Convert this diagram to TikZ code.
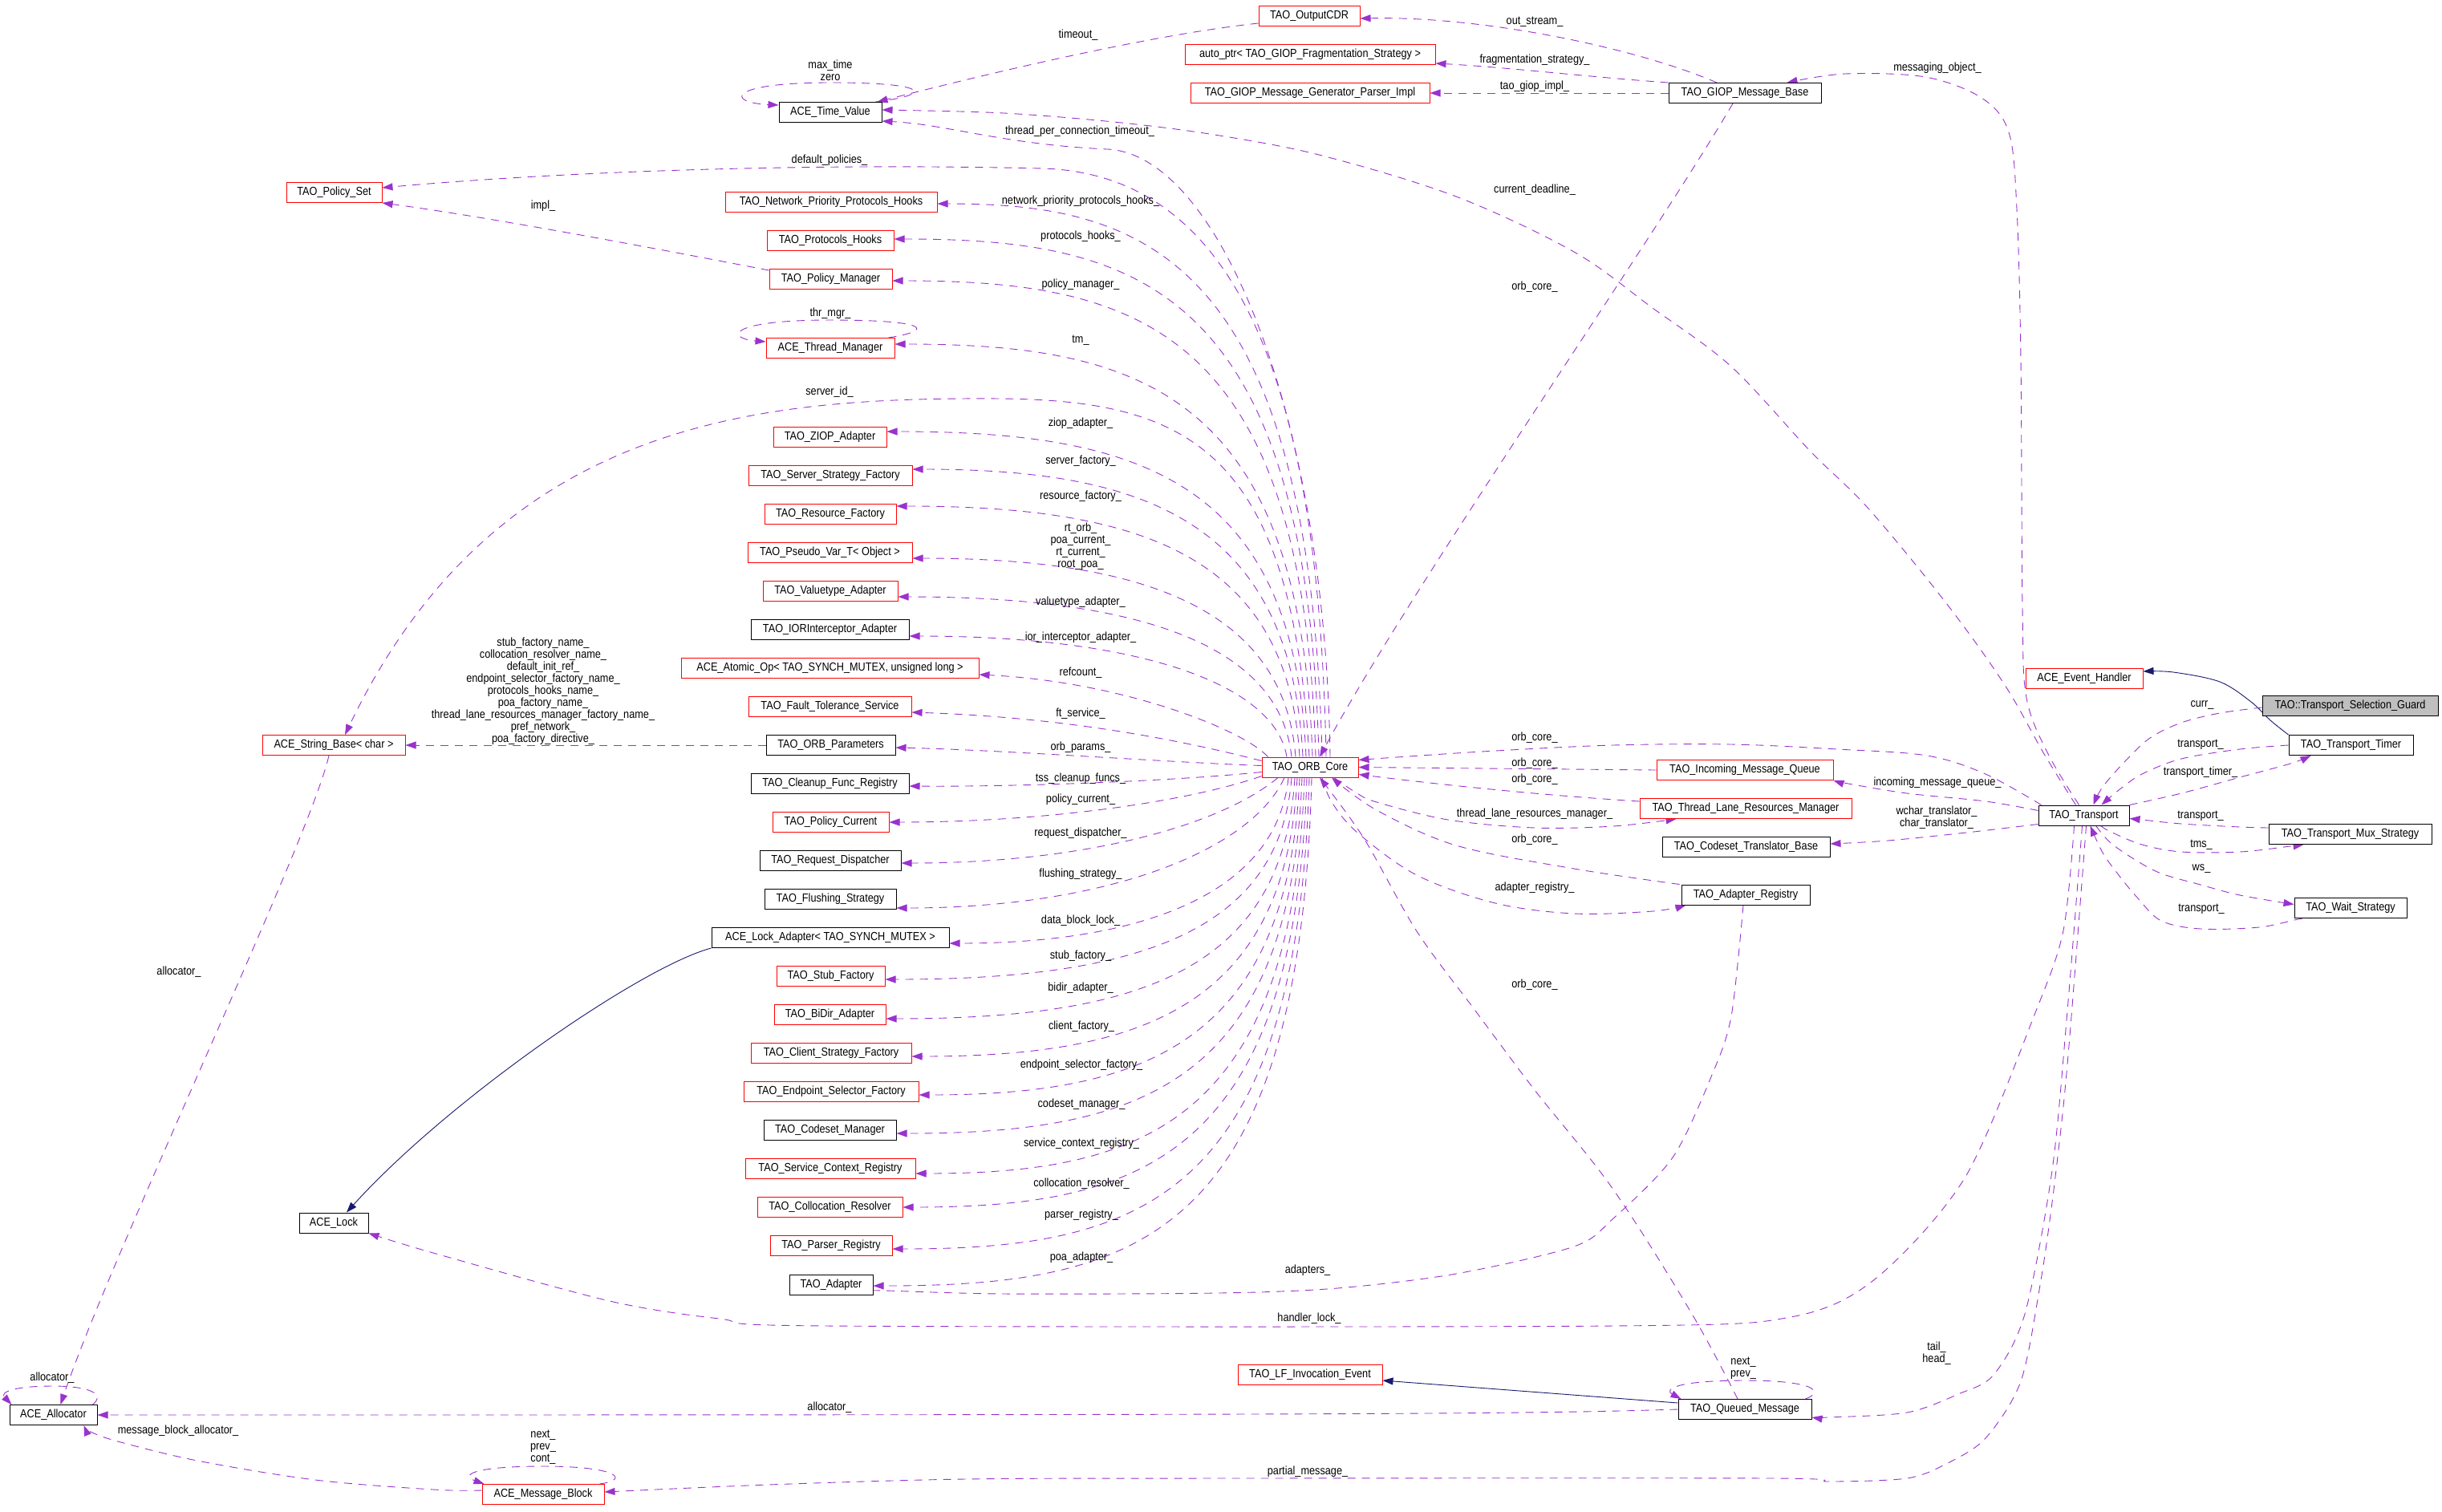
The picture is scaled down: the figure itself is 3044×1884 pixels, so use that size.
\documentclass[tikz,border=0pt]{standalone}
\usepackage{fontspec}
\newfontfamily\dgfam{Liberation Sans}[FakeStretch=0.87]
\newcommand\dgfont{\dgfam\fontsize{7.3pt}{7.5pt}\selectfont}
\usetikzlibrary{arrows.meta,calc}
\definecolor{usecol}{HTML}{9A32CD}
\definecolor{inhcol}{HTML}{191970}
\definecolor{curgray}{HTML}{BFBFBF}
\pgfdeclarelayer{bg}
\pgfsetlayers{bg,main}
\tikzset{
  cls/.style={draw=black, line width=0.5pt, fill=white, minimum height=12.5pt, inner xsep=1pt, inner ysep=0pt, font=\dgfont, text height=5.3pt, text depth=1.6pt},
  redc/.style={cls, draw=red},
  curc/.style={cls, fill=curgray},
  usedge/.style={draw=usecol, line width=0.45pt, dash pattern=on 5pt off 4pt, -{Triangle[length=6.5pt,width=4.5pt]}},
  inhedge/.style={draw=inhcol, line width=0.45pt, -{Triangle[length=6.5pt,width=4.5pt]}},
  lbl/.style={font=\dgfont, inner sep=0pt, align=center},
}
\begin{document}
\begin{tikzpicture}[x=0.5pt,y=-0.5pt]
\useasboundingbox (0,0) rectangle (3044,1884);
% ---------------- nodes ----------------
\node[cls,  minimum width=64pt]   (tv)    at (1035,140)  {ACE\_Time\_Value};
\node[redc, minimum width=59.5pt] (ps)    at (416.5,240) {TAO\_Policy\_Set};
\node[redc, minimum width=132pt]  (npph)  at (1036,252)  {TAO\_Network\_Priority\_Protocols\_Hooks};
\node[redc, minimum width=79pt]   (ph)    at (1035,300)  {TAO\_Protocols\_Hooks};
\node[redc, minimum width=76.5pt] (pm)    at (1035.5,348){TAO\_Policy\_Manager};
\node[redc, minimum width=80pt]   (tm)    at (1035,434)  {ACE\_Thread\_Manager};
\node[redc, minimum width=70.5pt] (ziop)  at (1034.5,545){TAO\_ZIOP\_Adapter};
\node[redc, minimum width=102pt]  (ssf)   at (1035,593)  {TAO\_Server\_Strategy\_Factory};
\node[redc, minimum width=82pt]   (rf)    at (1035,641)  {TAO\_Resource\_Factory};
\node[redc, minimum width=102.5pt](pvt)   at (1034.5,689){TAO\_Pseudo\_Var\_T< Object >};
\node[redc, minimum width=84pt]   (va)    at (1035,737)  {TAO\_Valuetype\_Adapter};
\node[cls,  minimum width=98.5pt] (ior)   at (1034.5,785){TAO\_IORInterceptor\_Adapter};
\node[redc, minimum width=185.5pt](atomic) at (1034.5,833){ACE\_Atomic\_Op< TAO\_SYNCH\_MUTEX, unsigned long >};
\node[redc, minimum width=101.5pt](ft)    at (1034.5,881){TAO\_Fault\_Tolerance\_Service};
\node[cls,  minimum width=80.5pt] (orbp)  at (1035.5,929){TAO\_ORB\_Parameters};
\node[cls,  minimum width=98.5pt] (cfr)   at (1034.5,977){TAO\_Cleanup\_Func\_Registry};
\node[redc, minimum width=72.5pt] (pc)    at (1035.5,1025){TAO\_Policy\_Current};
\node[cls,  minimum width=88pt]   (rd)    at (1035,1073) {TAO\_Request\_Dispatcher};
\node[cls,  minimum width=82pt]   (fs)    at (1035,1121) {TAO\_Flushing\_Strategy};
\node[cls,  minimum width=148pt]  (la)    at (1035,1169) {ACE\_Lock\_Adapter< TAO\_SYNCH\_MUTEX >};
\node[redc, minimum width=67.5pt] (sf)    at (1035.5,1217){TAO\_Stub\_Factory};
\node[redc, minimum width=69.5pt] (bidir) at (1034.5,1265){TAO\_BiDir\_Adapter};
\node[redc, minimum width=100pt]  (csf)   at (1036,1313) {TAO\_Client\_Strategy\_Factory};
\node[redc, minimum width=109pt]  (esf)   at (1036,1361) {TAO\_Endpoint\_Selector\_Factory};
\node[cls,  minimum width=82.5pt] (cm)    at (1034.5,1409){TAO\_Codeset\_Manager};
\node[redc, minimum width=106pt]  (scr)   at (1035,1457) {TAO\_Service\_Context\_Registry};
\node[redc, minimum width=90.5pt] (cr)    at (1034.5,1505){TAO\_Collocation\_Resolver};
\node[redc, minimum width=76pt]   (pr)    at (1036,1553) {TAO\_Parser\_Registry};
\node[cls,  minimum width=52pt]   (ad)    at (1036,1602) {TAO\_Adapter};
\node[redc, minimum width=63pt]   (cdr)   at (1632,20)   {TAO\_OutputCDR};
\node[redc, minimum width=156pt]  (ap)    at (1633,68)   {auto\_ptr< TAO\_GIOP\_Fragmentation\_Strategy >};
\node[redc, minimum width=149pt]  (gpi)   at (1633,116)  {TAO\_GIOP\_Message\_Generator\_Parser\_Impl};
\node[cls,  minimum width=95pt]   (gmb)   at (2175,116)  {TAO\_GIOP\_Message\_Base};
\node[redc, minimum width=60pt]   (orb)   at (1633,956.5){TAO\_ORB\_Core};
\node[redc, minimum width=110pt]  (imq)   at (2175,960)  {TAO\_Incoming\_Message\_Queue};
\node[redc, minimum width=132pt]  (tlrm)  at (2176,1008) {TAO\_Thread\_Lane\_Resources\_Manager};
\node[cls,  minimum width=104.5pt](ctb)   at (2176.5,1056){TAO\_Codeset\_Translator\_Base};
\node[cls,  minimum width=80pt]   (ar)    at (2176,1115.5){TAO\_Adapter\_Registry};
\node[redc, minimum width=73pt]   (eh)    at (2598,846)  {ACE\_Event\_Handler};
\node[curc, minimum width=109.5pt](tsg)   at (2929.5,880){TAO::Transport\_Selection\_Guard};
\node[cls,  minimum width=77.5pt] (tt)    at (2930.5,929){TAO\_Transport\_Timer};
\node[cls,  minimum width=56.5pt] (tr)    at (2597.5,1016.5){TAO\_Transport};
\node[cls,  minimum width=101.5pt](tms)   at (2929.5,1040){TAO\_Transport\_Mux\_Strategy};
\node[cls,  minimum width=70pt]   (ws)    at (2930,1131.5){TAO\_Wait\_Strategy};
\node[redc, minimum width=89pt]   (sb)    at (416,929)   {ACE\_String\_Base< char >};
\node[cls,  minimum width=43pt]   (lock)  at (416,1524.5){ACE\_Lock};
\node[cls,  minimum width=54.5pt] (alloc) at (66.5,1764) {ACE\_Allocator};
\node[redc, minimum width=76pt]   (mb)    at (677,1863)  {ACE\_Message\_Block};
\node[redc, minimum width=90pt]   (lfie)  at (1633,1714) {TAO\_LF\_Invocation\_Event};
\node[cls,  minimum width=83pt]   (qm)    at (2175,1757) {TAO\_Queued\_Message};
% ---------------- labels ----------------
\node[lbl] (l01) at (1035,88)   {max\_time\\zero};
\node[lbl] (l02) at (1344,44)   {timeout\_};
\node[lbl] (l03) at (1346,164)  {thread\_per\_connection\_timeout\_};
\node[lbl] (l04) at (1034,200)  {default\_policies\_};
\node[lbl] (l05) at (1347,251)  {network\_priority\_protocols\_hooks\_};
\node[lbl] (l06) at (677,257)   {impl\_};
\node[lbl] (l07) at (1347,295)  {protocols\_hooks\_};
\node[lbl] (l08) at (1347,355)  {policy\_manager\_};
\node[lbl] (l09) at (1035,391)  {thr\_mgr\_};
\node[lbl] (l10) at (1347,424)  {tm\_};
\node[lbl] (l11) at (1034,489)  {server\_id\_};
\node[lbl] (l12) at (1347,528)  {ziop\_adapter\_};
\node[lbl] (l13) at (1347,575)  {server\_factory\_};
\node[lbl] (l14) at (1347,619)  {resource\_factory\_};
\node[lbl] (l15) at (1347,681)  {rt\_orb\_\\poa\_current\_\\rt\_current\_\\root\_poa\_};
\node[lbl] (l16) at (1347,751)  {valuetype\_adapter\_};
\node[lbl] (l17) at (1347,795)  {ior\_interceptor\_adapter\_};
\node[lbl] (l18) at (1347,839)  {refcount\_};
\node[lbl] (l19) at (1347,890)  {ft\_service\_};
\node[lbl] (l20) at (1347,932)  {orb\_params\_};
\node[lbl] (l21) at (1347,971)  {tss\_cleanup\_funcs\_};
\node[lbl] (l22) at (1347,997)  {policy\_current\_};
\node[lbl] (l23) at (1347,1039) {request\_dispatcher\_};
\node[lbl] (l24) at (1347,1090) {flushing\_strategy\_};
\node[lbl] (l25) at (1347,1148) {data\_block\_lock\_};
\node[lbl] (l26) at (1347,1192) {stub\_factory\_};
\node[lbl] (l27) at (1347,1232) {bidir\_adapter\_};
\node[lbl] (l28) at (1348,1280) {client\_factory\_};
\node[lbl] (l29) at (1348,1328) {endpoint\_selector\_factory\_};
\node[lbl] (l30) at (1348,1377) {codeset\_manager\_};
\node[lbl] (l31) at (1348,1426) {service\_context\_registry\_};
\node[lbl] (l32) at (1348,1476) {collocation\_resolver\_};
\node[lbl] (l33) at (1348,1515) {parser\_registry\_};
\node[lbl] (l34) at (1348,1568) {poa\_adapter\_};
\node[lbl] (l35) at (1913,27)   {out\_stream\_};
\node[lbl] (l36) at (1913,75)   {fragmentation\_strategy\_};
\node[lbl] (l37) at (1913,108)  {tao\_giop\_impl\_};
\node[lbl] (l38) at (1913,237)  {current\_deadline\_};
\node[lbl] (l39) at (1913,358)  {orb\_core\_};
\node[lbl] (l40) at (2415,85)   {messaging\_object\_};
\node[lbl] (l41) at (677,862)   {stub\_factory\_name\_\\collocation\_resolver\_name\_\\default\_init\_ref\_\\endpoint\_selector\_factory\_name\_\\protocols\_hooks\_name\_\\poa\_factory\_name\_\\thread\_lane\_resources\_manager\_factory\_name\_\\pref\_network\_\\poa\_factory\_directive\_};
\node[lbl] (l42) at (223,1212)  {allocator\_};
\node[lbl] (l43) at (1913,920)  {orb\_core\_};
\node[lbl] (l44) at (1913,952)  {orb\_core\_};
\node[lbl] (l45) at (1913,972)  {orb\_core\_};
\node[lbl] (l46) at (1913,1015) {thread\_lane\_resources\_manager\_};
\node[lbl] (l47) at (1913,1047) {orb\_core\_};
\node[lbl] (l48) at (1913,1107) {adapter\_registry\_};
\node[lbl] (l49) at (1913,1228) {orb\_core\_};
\node[lbl] (l50) at (2745,879)  {curr\_};
\node[lbl] (l51) at (2743,928)  {transport\_};
\node[lbl] (l52) at (2743,963)  {transport\_timer\_};
\node[lbl] (l53) at (2415,976)  {incoming\_message\_queue\_};
\node[lbl] (l54) at (2414,1019) {wchar\_translator\_\\char\_translator\_};
\node[lbl] (l55) at (2743,1017) {transport\_};
\node[lbl] (l56) at (2744,1053) {tms\_};
\node[lbl] (l57) at (2744,1083) {ws\_};
\node[lbl] (l58) at (2744,1133) {transport\_};
\node[lbl] (l59) at (1630,1584) {adapters\_};
\node[lbl] (l60) at (1632,1644) {handler\_lock\_};
\node[lbl] (l61) at (2414,1687) {tail\_\\head\_};
\node[lbl] (l62) at (2173,1706) {next\_\\prev\_};
\node[lbl] (l63) at (1034,1755) {allocator\_};
\node[lbl] (l64) at (1630,1835) {partial\_message\_};
\node[lbl] (l65) at (65,1718)   {allocator\_};
\node[lbl] (l66) at (222,1784)  {message\_block\_allocator\_};
\node[lbl] (l67) at (677,1804)  {next\_\\prev\_\\cont\_};
% ---------------- coordinates on nodes ----------------
\coordinate (cdA) at ($(tr.north)+(-10,0)$);
\coordinate (cdB) at ($(tv.east)+(0,-3)$);
\coordinate (moA) at ($(tr.north)+(-6,0)$);
\coordinate (moB) at ($(gmb.north east)+(-43,0)$);
\coordinate (trA) at ($(tr.north west)+(4,0)$);
\coordinate (orbE) at ($(orb.east)+(0,-9)$);
\coordinate (orbS30) at ($(orb.south)+(30,0)$);
\coordinate (tlrmB) at ($(tlrm.south west)+(46,0)$);
\coordinate (arA) at ($(ar.north west)+(-2,0)$);
\coordinate (orbS27) at ($(orb.south)+(27,0)$);
\coordinate (orbS15) at ($(orb.south)+(15,0)$);
\coordinate (arB) at ($(ar.south west)+(6,0)$);
\coordinate (qmA) at ($(qm.north)+(-9,0)$);
\coordinate (orbS12) at ($(orb.south)+(12,0)$);
\coordinate (arS) at ($(ar.south)+(-3,0)$);
\coordinate (adE) at ($(ad.east)+(0,7)$);
\coordinate (trS1) at ($(tr.south)+(-12,0)$);
\coordinate (trS2) at ($(tr.south)+(-2,0)$);
\coordinate (trS3) at ($(tr.south)+(3,0)$);
\coordinate (qmE) at ($(qm.east)+(0,10)$);
\coordinate (mbE) at ($(mb.east)+(0,-3)$);
\coordinate (mbW) at ($(mb.west)+(0,-5)$);
\coordinate (allocB) at ($(alloc.south east)+(-17,0)$);
\coordinate (ehE) at ($(eh.east)+(0,-9)$);
\coordinate (ttNW) at (tt.north west);
\coordinate (tsgW) at ($(tsg.west)+(0,2)$);
\coordinate (trN12) at ($(tr.north)+(12,0)$);
\coordinate (ttW) at (tt.west);
\coordinate (trN22) at ($(tr.north)+(22,0)$);
\coordinate (trNE) at (tr.north east);
\coordinate (ttB) at ($(tt.south west)+(28,0)$);
\coordinate (tmsW) at ($(tms.west)+(0,-8)$);
\coordinate (trE) at ($(tr.east)+(0,4)$);
\coordinate (trSE) at ($(tr.south)+(21,0)$);
\coordinate (tmsB) at ($(tms.south west)+(44,0)$);
\coordinate (trS15) at ($(tr.south)+(15,0)$);
\coordinate (wsW) at ($(ws.west)+(0,-4)$);
\coordinate (wsB) at ($(ws.south west)+(28,0)$);
\coordinate (trS8) at ($(tr.south)+(8,0)$);
\coordinate (trW) at ($(tr.west)+(0,-6)$);
\coordinate (imqSE) at (imq.south east);
\coordinate (trSW) at ($(tr.south west)+(0,-2)$);
\coordinate (ctbE) at ($(ctb.east)+(0,-4)$);
\coordinate (lockSE) at (lock.south east);
% ---------------- edges ----------------
\begin{pgfonlayer}{bg}
\fill[white] (0,0) rectangle (3044,1884);
% self loops
\draw[usedge] ($(tv.north east)+(-8,0)$) .. controls (1165,118) and (1160,103) .. (1035,103) .. controls (905,103) and (905,128) .. ($(tv.west)+(0,-9)$);
\draw[usedge] ($(tm.north east)+(-8,0)$) .. controls (1165,412) and (1160,399) .. (1035,399) .. controls (905,399) and (905,422) .. ($(tm.west)+(0,-8)$);
\draw[usedge] ($(qm.north east)+(-8,0)$) .. controls (2275,1735) and (2262,1721) .. (2175,1721) .. controls (2085,1721) and (2075,1733) .. ($(qm.north west)+(4,0)$);
\draw[usedge] ($(alloc.north east)+(-6,0)$) .. controls (132,1738) and (112,1728) .. (66,1728) .. controls (15,1728) and (0,1736) .. ($(alloc.north west)+(3,0)$);
\draw[usedge] ($(mb.north east)+(-6,0)$) .. controls (785,1845) and (772,1828) .. (677,1828) .. controls (585,1828) and (575,1840) .. ($(mb.north west)+(3,0)$);
% time value / policy set
\draw[usedge] ($(cdr.west)+(0,9)$) .. controls (1420,45) and (1200,100) .. ($(tv.north east)+(-6,0)$);
\draw[usedge] plot[smooth,tension=0.55] coordinates {(cdA) (2548,940) (2499,854) (2426,752) (2329,634) (2257,563) (2158,457) (2060,384) (1962,314) (1815,245) (1648,194) (1520,169) (1398,153) (1251,141) (cdB)};
\draw[usedge] ($(pm.west)+(0,-11)$) .. controls (860,318) and (620,272) .. (ps.south east);
\draw[usedge] (orbp.west) -- (sb.east);
% ORB fan
\draw[usedge] ($(orb.north)+(25,0)$) .. controls (1652,520) and (1520,192) .. (1380,186) .. controls (1250,180) and (1180,155) .. ($(tv.east)+(0,11)$);
\draw[usedge] ($(orb.north)+(20,0)$) .. controls (1645,520) and (1560,218) .. (1300,210) .. controls (1000,203) and (700,214) .. ($(ps.east)+(0,-6)$);
\draw[usedge] ($(orb.north)+(15,0)$) .. controls (1633,314) and (1420,254) .. ($(npph.east)+(0,2)$);
\draw[usedge] ($(orb.north)+(11,0)$) .. controls (1629,358) and (1420,298) .. ($(ph.east)+(0,-2)$);
\draw[usedge] ($(orb.north)+(7,0)$) .. controls (1625,410) and (1420,350) .. ($(pm.east)+(0,2)$);
\draw[usedge] ($(orb.north)+(3,0)$) .. controls (1621,489) and (1420,429) .. ($(tm.east)+(0,-5)$);
\draw[usedge] ($(orb.north)+(-1,0)$) .. controls (1610,560) and (1480,500) .. (1250,497) .. controls (950,495) and (620,520) .. ($(sb.north)+(14,0)$);
\draw[usedge] ($(orb.north)+(-5,0)$) .. controls (1613,598) and (1420,538) .. ($(ziop.east)+(0,-7)$);
\draw[usedge] ($(orb.north)+(-9,0)$) .. controls (1609,645) and (1420,585) .. ($(ssf.east)+(0,-8)$);
\draw[usedge] ($(orb.north)+(-13,0)$) .. controls (1605,691) and (1420,631) .. ($(rf.east)+(0,-10)$);
\draw[usedge] ($(orb.north)+(-18,0)$) .. controls (1600,756) and (1420,696) .. ($(pvt.east)+(0,7)$);
\draw[usedge] ($(orb.north)+(-23,0)$) .. controls (1595,804) and (1420,744) .. ($(va.east)+(0,7)$);
\draw[usedge] ($(orb.north)+(-29,0)$) .. controls (1589,853) and (1420,793) .. ($(ior.east)+(0,8)$);
\draw[usedge] ($(orb.north west)+(8,0)$) .. controls (1550,910) and (1400,850) .. ($(atomic.east)+(0,8)$);
\draw[usedge] ($(orb.west)+(0,-8)$) .. controls (1500,930) and (1350,895) .. ($(ft.east)+(0,7)$);
\draw[usedge] ($(orb.west)+(0,-2)$) .. controls (1450,950) and (1250,935) .. ($(orbp.east)+(0,3)$);
\draw[usedge] ($(orb.west)+(0,6)$) .. controls (1450,975) and (1250,981) .. ($(cfr.east)+(0,3)$);
\draw[usedge] ($(orb.west)+(0,11)$) .. controls (1480,1000) and (1300,1025) .. (pc.east);
\draw[usedge] ($(orb.south)+(-40,0)$) .. controls (1520,1030) and (1350,1076) .. ($(rd.east)+(0,3)$);
\draw[usedge] ($(orb.south)+(-32,0)$) .. controls (1560,1060) and (1380,1132) .. ($(fs.east)+(0,11)$);
\draw[usedge] ($(orb.south)+(-27,0)$) .. controls (1591,1116) and (1420,1176) .. ($(la.east)+(0,7)$);
\draw[usedge] ($(orb.south)+(-23,0)$) .. controls (1595,1161) and (1420,1221) .. ($(sf.east)+(0,4)$);
\draw[usedge] ($(orb.south)+(-19,0)$) .. controls (1599,1210) and (1420,1270) .. ($(bidir.east)+(0,5)$);
\draw[usedge] ($(orb.south)+(-16,0)$) .. controls (1602,1257) and (1420,1317) .. ($(csf.east)+(0,4)$);
\draw[usedge] ($(orb.south)+(-13,0)$) .. controls (1605,1305) and (1420,1365) .. ($(esf.east)+(0,4)$);
\draw[usedge] ($(orb.south)+(-10,0)$) .. controls (1608,1353) and (1420,1413) .. ($(cm.east)+(0,4)$);
\draw[usedge] ($(orb.south)+(-7,0)$) .. controls (1611,1403) and (1420,1463) .. ($(scr.east)+(0,6)$);
\draw[usedge] ($(orb.south)+(-4,0)$) .. controls (1614,1445) and (1420,1505) .. (cr.east);
\draw[usedge] ($(orb.south)+(-1,0)$) .. controls (1617,1497) and (1420,1557) .. ($(pr.east)+(0,4)$);
\draw[usedge] ($(orb.south)+(2,0)$) .. controls (1620,1543) and (1420,1603) .. ($(ad.east)+(0,1)$);
% GIOP message base
\draw[usedge] ($(gmb.north)+(-35,0)$) .. controls (2040,60) and (1850,20) .. ($(cdr.east)+(0,3)$);
\draw[usedge] (gmb.north west) .. controls (1980,96) and (1880,84) .. ($(ap.east)+(0,11)$);
\draw[usedge] (gmb.west) -- (gpi.east);
\draw[usedge] ($(gmb.south)+(-15,0)$) .. controls (2060,300) and (1760,730) .. ($(orb.north)+(12,0)$);
\draw[usedge] plot[smooth,tension=0.55] coordinates {(moA) (2553,940) (2526,870) (2521,760) (2519,450) (2514,261) (2504,165) (2470,122) (2400,96) (2300,92) (moB)};
% ORB core neighbours on the right
\draw[usedge] plot[smooth,tension=0.55] coordinates {(trA) (2475,965) (2402,942) (2290,934) (2158,928) (2011,929) (1864,936) (1741,944) (orbE)};
\draw[usedge] (imq.west) -- (orb.east);
\draw[usedge] ($(tlrm.west)+(0,-9)$) .. controls (1900,990) and (1770,975) .. ($(orb.east)+(0,9)$);
\draw[usedge] plot[smooth,tension=0.55] coordinates {(orbS30) (1690,988) (1716,1000) (1805,1022) (1913,1032) (2011,1030) (tlrmB)};
\draw[usedge] plot[smooth,tension=0.55] coordinates {(arA) (1962,1083) (1815,1054) (1716,1010) (orbS27)};
\draw[usedge] plot[smooth,tension=0.55] coordinates {(orbS15) (1660,1000) (1692,1038) (1766,1091) (1864,1126) (1962,1139) (2060,1136) (arB)};
\draw[usedge] plot[smooth,tension=0.55] coordinates {(qmA) (2109,1638) (2011,1483) (1913,1359) (1839,1260) (1766,1161) (1700,1045) (orbS12)};
\draw[usedge] plot[smooth,tension=0.5] coordinates {(arS) (2158,1267) (2134,1340) (2085,1443) (2011,1519) (1962,1554) (1815,1588) (1667,1606) (1520,1612) (1251,1613) (1104,1609) (adE)};
% transport
\draw[usedge] plot[smooth,tension=0.5] coordinates {(trS1) (2572,1160) (2538,1260) (2450,1467) (2338,1594) (2232,1642) (2011,1653) (1030,1653) (897,1644) (760,1622) (540,1562) (lockSE)};
\draw[usedge] plot[smooth,tension=0.5] coordinates {(trS2) (2577,1260) (2558,1459) (2524,1638) (2485,1714) (2441,1738) (2377,1761) (2280,1767) (qmE)};
\draw[usedge] plot[smooth,tension=0.5] coordinates {(trS3) (2582,1267) (2572,1379) (2558,1499) (2543,1602) (2519,1722) (2475,1793) (2426,1825) (2377,1843) (2280,1847) (2208,1843) (1520,1843) (1202,1844) (957,1851) (mbE)};
\draw[usedge] (qm.west) .. controls (1900,1763) and (1700,1764) .. (alloc.east);
\draw[inhedge] ($(qm.west)+(0,-8)$) -- ($(lfie.east)+(0,7)$);
\draw[usedge] ($(sb.south)+(-6,0)$) .. controls (385,1050) and (140,1560) .. ($(alloc.north)+(9,0)$);
\draw[usedge] plot[smooth,tension=0.55] coordinates {(mbW) (540,1857) (393,1845) (246,1821) (147,1797) (113,1785) (allocB)};
\draw[inhedge] (la.south west) .. controls (800,1205) and (560,1370) .. ($(lock.north)+(16,0)$);
\draw[inhedge] plot[smooth,tension=0.55] coordinates {(ttNW) (2830,898) (2806,875) (2767,850) (2709,838) (ehE)};
\draw[usedge] plot[smooth,tension=0.55] coordinates {(tsgW) (2767,889) (2719,901) (2680,920) (2650,948) (2621,981) (trN12)};
\draw[usedge] plot[smooth,tension=0.55] coordinates {(ttW) (2792,934) (2719,946) (2670,965) (2641,985) (trN22)};
\draw[usedge] plot[smooth,tension=0.55] coordinates {(trNE) (2719,989) (2792,969) (2855,952) (ttB)};
\draw[usedge] plot[smooth,tension=0.55] coordinates {(tmsW) (2792,1031) (2719,1027) (2670,1022) (trE)};
\draw[usedge] plot[smooth,tension=0.55] coordinates {(trSE) (2631,1037) (2670,1053) (2719,1062) (2792,1062) (2855,1055) (tmsB)};
\draw[usedge] plot[smooth,tension=0.55] coordinates {(trS15) (2630,1050) (2660,1071) (2694,1089) (2743,1103) (2792,1116) (wsW)};
\draw[usedge] plot[smooth,tension=0.55] coordinates {(wsB) (2865,1146) (2816,1156) (2743,1158) (2694,1148) (2665,1120) (2641,1091) (2621,1063) (trS8)};
\draw[usedge] plot[smooth,tension=0.55] coordinates {(trW) (2475,999) (2377,989) (2304,977) (imqSE)};
\draw[usedge] plot[smooth,tension=0.55] coordinates {(trSW) (2451,1038) (2353,1048) (ctbE)};
\end{pgfonlayer}
\end{tikzpicture}
\end{document}
